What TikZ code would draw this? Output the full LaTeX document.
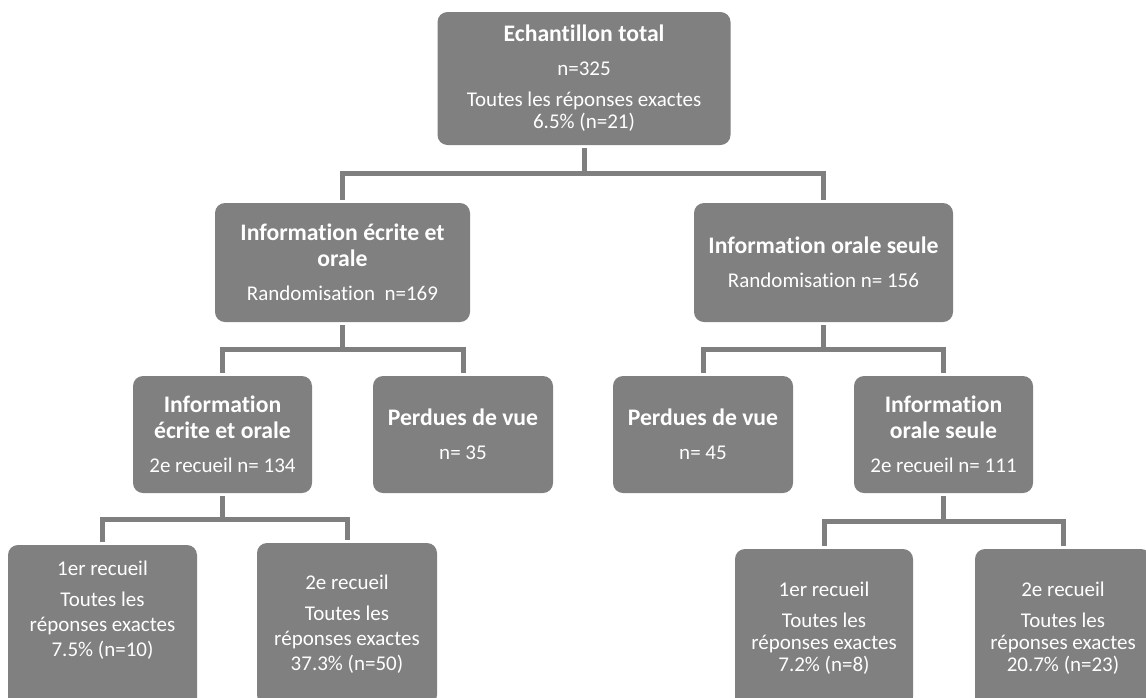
\documentclass[tikz,border=0pt]{standalone}
\usepackage{fontspec}
\setmainfont{Carlito}[Ligatures=NoCommon]
\usepackage{xcolor}
\usepackage{tikz}
\usetikzlibrary{positioning, calc}
\definecolor{boxgray}{RGB}{128,128,128}
\definecolor{linkgray}{RGB}{127,127,127}
\newcommand{\titre}[1]{{\fontsize{23.7}{26}\selectfont\bfseries #1}}

\begin{document}
\begin{tikzpicture}[x=1pt, y=-1pt,
  every node/.style={font=\fontsize{21}{22}\selectfont},
  box/.style={rectangle, rounded corners=10pt, fill=boxgray, text=white,
              align=center, inner sep=4pt},
  link/.style={draw=linkgray, line width=5pt, line join=miter,
               shorten <=3pt, shorten >=3pt}
]
  \useasboundingbox (0,0) rectangle (1146,697);

  \node[box, minimum width=293pt, minimum height=133pt] (total) at (584,78.5)
    {\titre{Echantillon total}\\[12pt] n=325\\[9pt]
     Toutes les réponses exactes\\ 6.5\% (n=21)};

  \node[box, minimum width=255pt, minimum height=119pt] (ecrite) at (342.5,262.5)
    {\titre{Information écrite et}\\[4pt] \titre{orale}\\[12pt]
     Randomisation\ \ n=169};
  \node[box, minimum width=259pt, minimum height=119pt] (orale) at (823.5,262.5)
    {\titre{Information orale seule}\\[12pt] Randomisation n= 156};

  \node[box, minimum width=179pt, minimum height=117pt] (ecrite2) at (222.5,434.5)
    {\titre{Information}\\[4pt] \titre{écrite et orale}\\[12pt] 2e recueil n= 134};
  \node[box, minimum width=180pt, minimum height=117pt] (perdues1) at (463,434.5)
    {\titre{Perdues de vue}\\[12pt] n= 35};
  \node[box, minimum width=180pt, minimum height=117pt] (perdues2) at (703,434.5)
    {\titre{Perdues de vue}\\[12pt] n= 45};
  \node[box, minimum width=179pt, minimum height=117pt] (orale2) at (943.5,434.5)
    {\titre{Information}\\[4pt] \titre{orale seule}\\[12pt] 2e recueil n= 111};

  \node[box, minimum width=189pt, minimum height=166pt] (ecriteR1) at (102.5,628)
    {1er recueil\\[9pt] Toutes les\\[3pt] réponses exactes\\[3pt] 7.5\% (n=10)\\[10pt]\strut};
  \node[box, minimum width=180pt, minimum height=162pt] (ecriteR2) at (347,624)
    {2e recueil\\[9pt] Toutes les\\[3pt] réponses exactes\\[3pt] 37.3\% (n=50)};
  \node[box, minimum width=178pt, minimum height=158pt] (oraleR1) at (824,628)
    {1er recueil\\[9pt] Toutes les\\ réponses exactes\\ 7.2\% (n=8)};
  \node[box, minimum width=176pt, minimum height=158pt] (oraleR2) at (1063,628)
    {2e recueil\\[9pt] Toutes les\\ réponses exactes\\ 20.7\% (n=23)};

  \draw[link] (total.south) -- ++(0,28) -| (ecrite.north);
  \draw[link] (total.south) -- ++(0,28) -| (orale.north);

  \draw[link] (ecrite.south) -- ++(0,27) -| (ecrite2.north);
  \draw[link] (ecrite.south) -- ++(0,27) -| (perdues1.north);
  \draw[link] (orale.south) -- ++(0,27) -| (perdues2.north);
  \draw[link] (orale.south) -- ++(0,27) -| (orale2.north);

  \draw[link] (ecrite2.south) -- ++(0,26) -| (ecriteR1.north);
  \draw[link] (ecrite2.south) -- ++(0,26) -| (ecriteR2.north);
  \draw[link] (orale2.south) -- ++(0,28) -| (oraleR1.north);
  \draw[link] (orale2.south) -- ++(0,28) -| (oraleR2.north);
\end{tikzpicture}
\end{document}
